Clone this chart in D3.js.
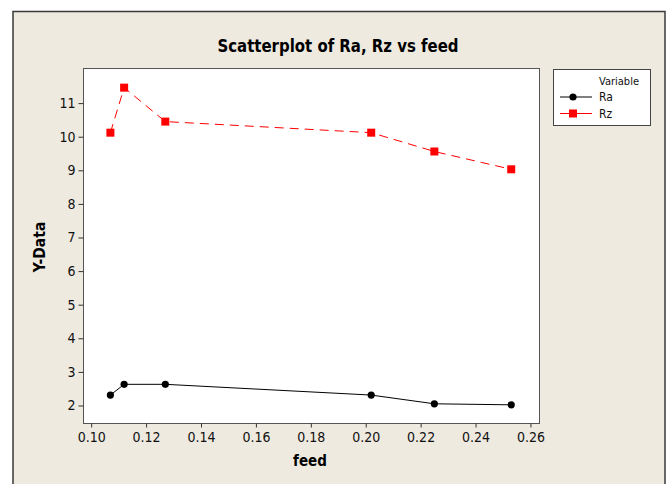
<!DOCTYPE html>
<html>
<head>
<meta charset="utf-8">
<script src="https://cdn.jsdelivr.net/npm/d3@7"></script>
<style>
  body { margin: 0; background: #fff; }
  text { font-family: "DejaVu Sans Condensed", "DejaVu Sans", sans-serif; }
</style>
</head>
<body>
<svg width="669" height="484"></svg>
<script>
  // data
  const feed = [0.107, 0.112, 0.127, 0.202, 0.225, 0.253];
  const ra = [2.31, 2.63, 2.63, 2.31, 2.05, 2.02];
  const rz = [10.12, 11.46, 10.45, 10.12, 9.56, 9.03];
  const xTicks = [0.10, 0.12, 0.14, 0.16, 0.18, 0.20, 0.22, 0.24, 0.26];
  const yTicks = [2, 3, 4, 5, 6, 7, 8, 9, 10, 11];
  const seriesNames = ["Ra", "Rz"];

  const svg = d3.select("svg");

  // outer frame
  svg.append("rect")
    .attr("x", 13).attr("y", 11.5)
    .attr("width", 652).attr("height", 490)
    .attr("fill", "#eeeae0")
    .attr("stroke", "#3a3a3a")
    .attr("stroke-width", 1.5);

  const plot = { left: 83.5, top: 68.5, right: 539.5, bottom: 423.5 };

  const x = d3.scaleLinear().domain([0.0972, 0.2633]).range([plot.left, plot.right]);
  const y = d3.scaleLinear().domain([1.464, 12.03]).range([plot.bottom, plot.top]);

  svg.append("rect")
    .attr("x", plot.left).attr("y", plot.top)
    .attr("width", plot.right - plot.left).attr("height", plot.bottom - plot.top)
    .attr("fill", "#fff")
    .attr("stroke", "#555")
    .attr("stroke-width", 1);

  // axes
  const xAxis = svg.append("g")
    .attr("transform", `translate(0,${plot.bottom})`)
    .call(d3.axisBottom(x).tickValues(xTicks).tickFormat(d3.format(".2f")).tickSize(4).tickPadding(5));
  const yAxis = svg.append("g")
    .attr("transform", `translate(${plot.left},0)`)
    .call(d3.axisLeft(y).tickValues(yTicks).tickFormat(d3.format("d")).tickSize(5).tickPadding(3));
  [xAxis, yAxis].forEach(g => {
    g.select(".domain").remove();
    g.selectAll("line").attr("stroke", "#333");
    g.selectAll("text")
      .attr("fill", "#111")
      .style("font-family", "DejaVu Sans Condensed")
      .style("font-size", "14px");
  });

  // title and axis labels
  svg.append("text")
    .attr("x", 338).attr("y", 51.5)
    .attr("text-anchor", "middle")
    .attr("font-weight", "bold").attr("font-size", 18.5)
    .attr("textLength", 241).attr("lengthAdjust", "spacingAndGlyphs")
    .text("Scatterplot of Ra, Rz vs feed");

  svg.append("text")
    .attr("x", 310).attr("y", 466)
    .attr("text-anchor", "middle")
    .attr("font-weight", "bold").attr("font-size", 15)
    .text("feed");

  svg.append("text")
    .attr("transform", "translate(45,247) rotate(-90)")
    .attr("text-anchor", "middle")
    .attr("font-weight", "bold").attr("font-size", 15.5)
    .text("Y-Data");

  // series
  const line = d3.line().x(d => x(d[0])).y(d => y(d[1]));
  const raPts = feed.map((f, i) => [f, ra[i]]);
  const rzPts = feed.map((f, i) => [f, rz[i]]);

  svg.append("path").datum(raPts)
    .attr("d", line).attr("fill", "none")
    .attr("stroke", "#000").attr("stroke-width", 1);
  svg.selectAll(".ra").data(raPts).enter().append("circle")
    .attr("class", "ra")
    .attr("cx", d => x(d[0])).attr("cy", d => y(d[1]))
    .attr("r", 3.6).attr("fill", "#000");

  svg.append("path").datum(rzPts)
    .attr("d", line).attr("fill", "none")
    .attr("stroke", "#ff0000").attr("stroke-width", 1)
    .attr("stroke-dasharray", "9,6");
  svg.selectAll(".rz").data(rzPts).enter().append("rect")
    .attr("class", "rz")
    .attr("x", d => x(d[0]) - 4).attr("y", d => y(d[1]) - 4)
    .attr("width", 8).attr("height", 8).attr("fill", "#ff0000");

  // legend
  const lg = svg.append("g");
  lg.append("rect")
    .attr("x", 553.5).attr("y", 69.5).attr("width", 97).attr("height", 56)
    .attr("fill", "#fff").attr("stroke", "#444");
  lg.append("text").attr("x", 599).attr("y", 85)
    .attr("font-size", 11).attr("fill", "#111").text("Variable");
  seriesNames.forEach((name, i) => {
    const yy = 97 + i * 16.5;
    const col = i === 0 ? "#000" : "#ff0000";
    lg.append("line").attr("x1", 560).attr("x2", 592).attr("y1", yy).attr("y2", yy)
      .attr("stroke", col).attr("stroke-width", 1);
    if (i === 0) {
      lg.append("circle").attr("cx", 573).attr("cy", yy).attr("r", 3.6).attr("fill", col);
    } else {
      lg.append("rect").attr("x", 569).attr("y", yy - 4).attr("width", 8).attr("height", 8).attr("fill", col);
    }
    lg.append("text").attr("x", 599).attr("y", yy + 4)
      .attr("font-size", 12).attr("fill", "#111").text(name);
  });
</script>
</body>
</html>
